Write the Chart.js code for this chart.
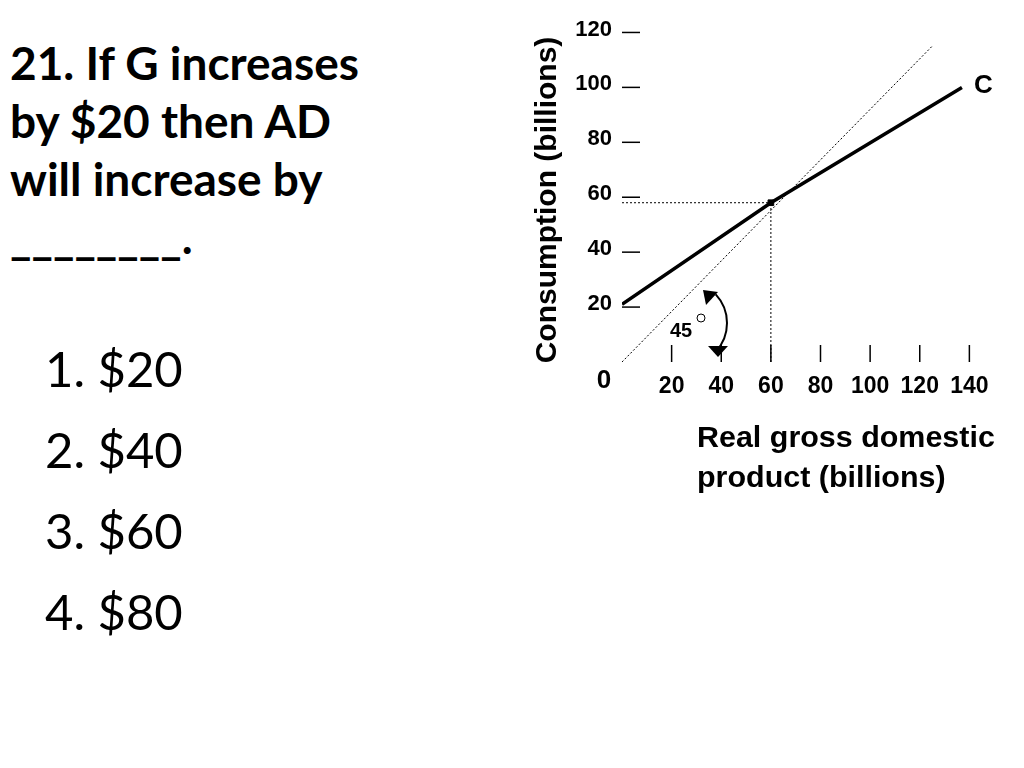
<!DOCTYPE html>
<html>
<head>
<meta charset="utf-8">
<script src="https://cdn.jsdelivr.net/npm/chart.js@4"></script>
<style>
  body { margin: 0; width: 1024px; height: 768px; background: #fff; position: relative; overflow: hidden; }
  #question { position: absolute; left: 10px; top: 34px; font: bold 46px Lato, sans-serif; line-height: 58px; color: #000; }
  #answers { position: absolute; left: 45px; top: 328px; font: 49px Lato, sans-serif; line-height: 81px; color: #000; }
  #chart { position: absolute; left: 500px; top: 0; }
  #xtitle { position: absolute; left: 697px; top: 417px; font: bold 29px "Liberation Sans", Arial, sans-serif; line-height: 40px; color: #000; transform: scaleX(1.05); transform-origin: left; }
</style>
</head>
<body>
<div id="question">21. If G increases<br>by $20 then AD<br>will increase by<br>________.</div>
<div id="answers">1. $20<br>2. $40<br>3. $60<br>4. $80</div>
<canvas id="chart" width="524" height="500"></canvas>
<div id="xtitle">Real gross domestic<br>product (billions)</div>
<script>
// Data
const xTicks = [20, 40, 60, 80, 100, 120, 140];
const yTicks = [20, 40, 60, 80, 100, 120];
const consumption = [{x: 0, y: 21}, {x: 60, y: 58}, {x: 137, y: 100}];
const fortyFive = [{x: 0, y: 0}, {x: 125, y: 115}];
const guideH = [{x: 0, y: 58}, {x: 60, y: 58}];
const guideV = [{x: 60, y: 0}, {x: 60, y: 58}];
const eqPoint = [{x: 60, y: 58}];

// ---------------------------------------------------------
// Hand-drawn axis decorations: ticks, labels, notes
// ---------------------------------------------------------
const decorations = {
  id: "decorations",
  afterDraw(chart) {
    const ctx = chart.ctx;
    const xs = chart.scales.x, ys = chart.scales.y;
    const x0 = xs.getPixelForValue(0), y0 = ys.getPixelForValue(0);
    ctx.save();
    ctx.strokeStyle = "#000";
    ctx.fillStyle = "#000";
    ctx.lineWidth = 1.5;

    // y ticks
    ctx.font = "bold 22px 'Liberation Sans', Arial, sans-serif";
    ctx.textAlign = "right";
    ctx.textBaseline = "middle";
    yTicks.forEach(v => {
      const y = ys.getPixelForValue(v);
      ctx.beginPath(); ctx.moveTo(x0, y); ctx.lineTo(x0 + 18, y); ctx.stroke();
      ctx.fillText(String(v), x0 - 10, y - 3);
    });
    // x ticks
    ctx.font = "bold 23px 'Liberation Sans', Arial, sans-serif";
    ctx.textAlign = "center";
    ctx.textBaseline = "top";
    xTicks.forEach(v => {
      const x = xs.getPixelForValue(v);
      ctx.beginPath(); ctx.moveTo(x, y0); ctx.lineTo(x, y0 - 17); ctx.stroke();
      ctx.fillText(String(v), x, y0 + 13);
    });
    ctx.font = "bold 26px 'Liberation Sans', Arial, sans-serif";
    ctx.fillText("0", x0 - 18, y0 + 6);

    // y title
    ctx.save();
    ctx.translate(48, 200);
    ctx.rotate(-Math.PI / 2);
    ctx.textBaseline = "middle";
    ctx.font = "bold 30px 'Liberation Sans', Arial, sans-serif";
    ctx.fillText("Consumption (billions)", 0, 0);
    ctx.restore();

    // line label
    ctx.font = "bold 26px 'Liberation Sans', Arial, sans-serif";
    ctx.textAlign = "left";
    ctx.textBaseline = "middle";
    ctx.fillText("C", xs.getPixelForValue(137) + 12, ys.getPixelForValue(100) - 2);

    // 45 degree note with curved arrow
    ctx.font = "bold 20px 'Liberation Sans', Arial, sans-serif";
    ctx.fillText("45", 170, 331);
    ctx.lineWidth = 1;
    ctx.beginPath(); ctx.arc(201, 318, 4, 0, Math.PI * 2); ctx.stroke();
    ctx.lineWidth = 2;
    ctx.beginPath(); ctx.arc(185, 323, 42, -0.75, 0.75); ctx.stroke();
    ctx.beginPath(); ctx.moveTo(203, 290); ctx.lineTo(218, 292); ctx.lineTo(206, 305); ctx.closePath(); ctx.fill();
    ctx.beginPath(); ctx.moveTo(208, 346); ctx.lineTo(228, 346); ctx.lineTo(218, 357); ctx.closePath(); ctx.fill();
    ctx.restore();
  }
};

const dotted = { borderColor: "#000", borderWidth: 1, borderDash: [2, 2], pointRadius: 0, fill: false };

new Chart(document.getElementById("chart"), {
  type: "line",
  data: {
    datasets: [
      { data: consumption, borderColor: "#000", borderWidth: 3.5, pointRadius: 0, fill: false },
      { data: fortyFive, ...dotted },
      { data: guideH, ...dotted },
      { data: guideV, ...dotted },
      { data: eqPoint, showLine: false, pointStyle: "rect", pointRadius: 4, backgroundColor: "#000", borderColor: "#000" }
    ]
  },
  options: {
    responsive: false,
    animation: false,
    layout: { padding: { left: 122, top: 4, right: 2, bottom: 138 } },
    plugins: { legend: { display: false }, tooltip: { enabled: false } },
    scales: {
      x: { type: "linear", min: 0, max: 160, display: false },
      y: { type: "linear", min: 0, max: 130, display: false }
    }
  },
  plugins: [decorations]
});
</script>
</body>
</html>
